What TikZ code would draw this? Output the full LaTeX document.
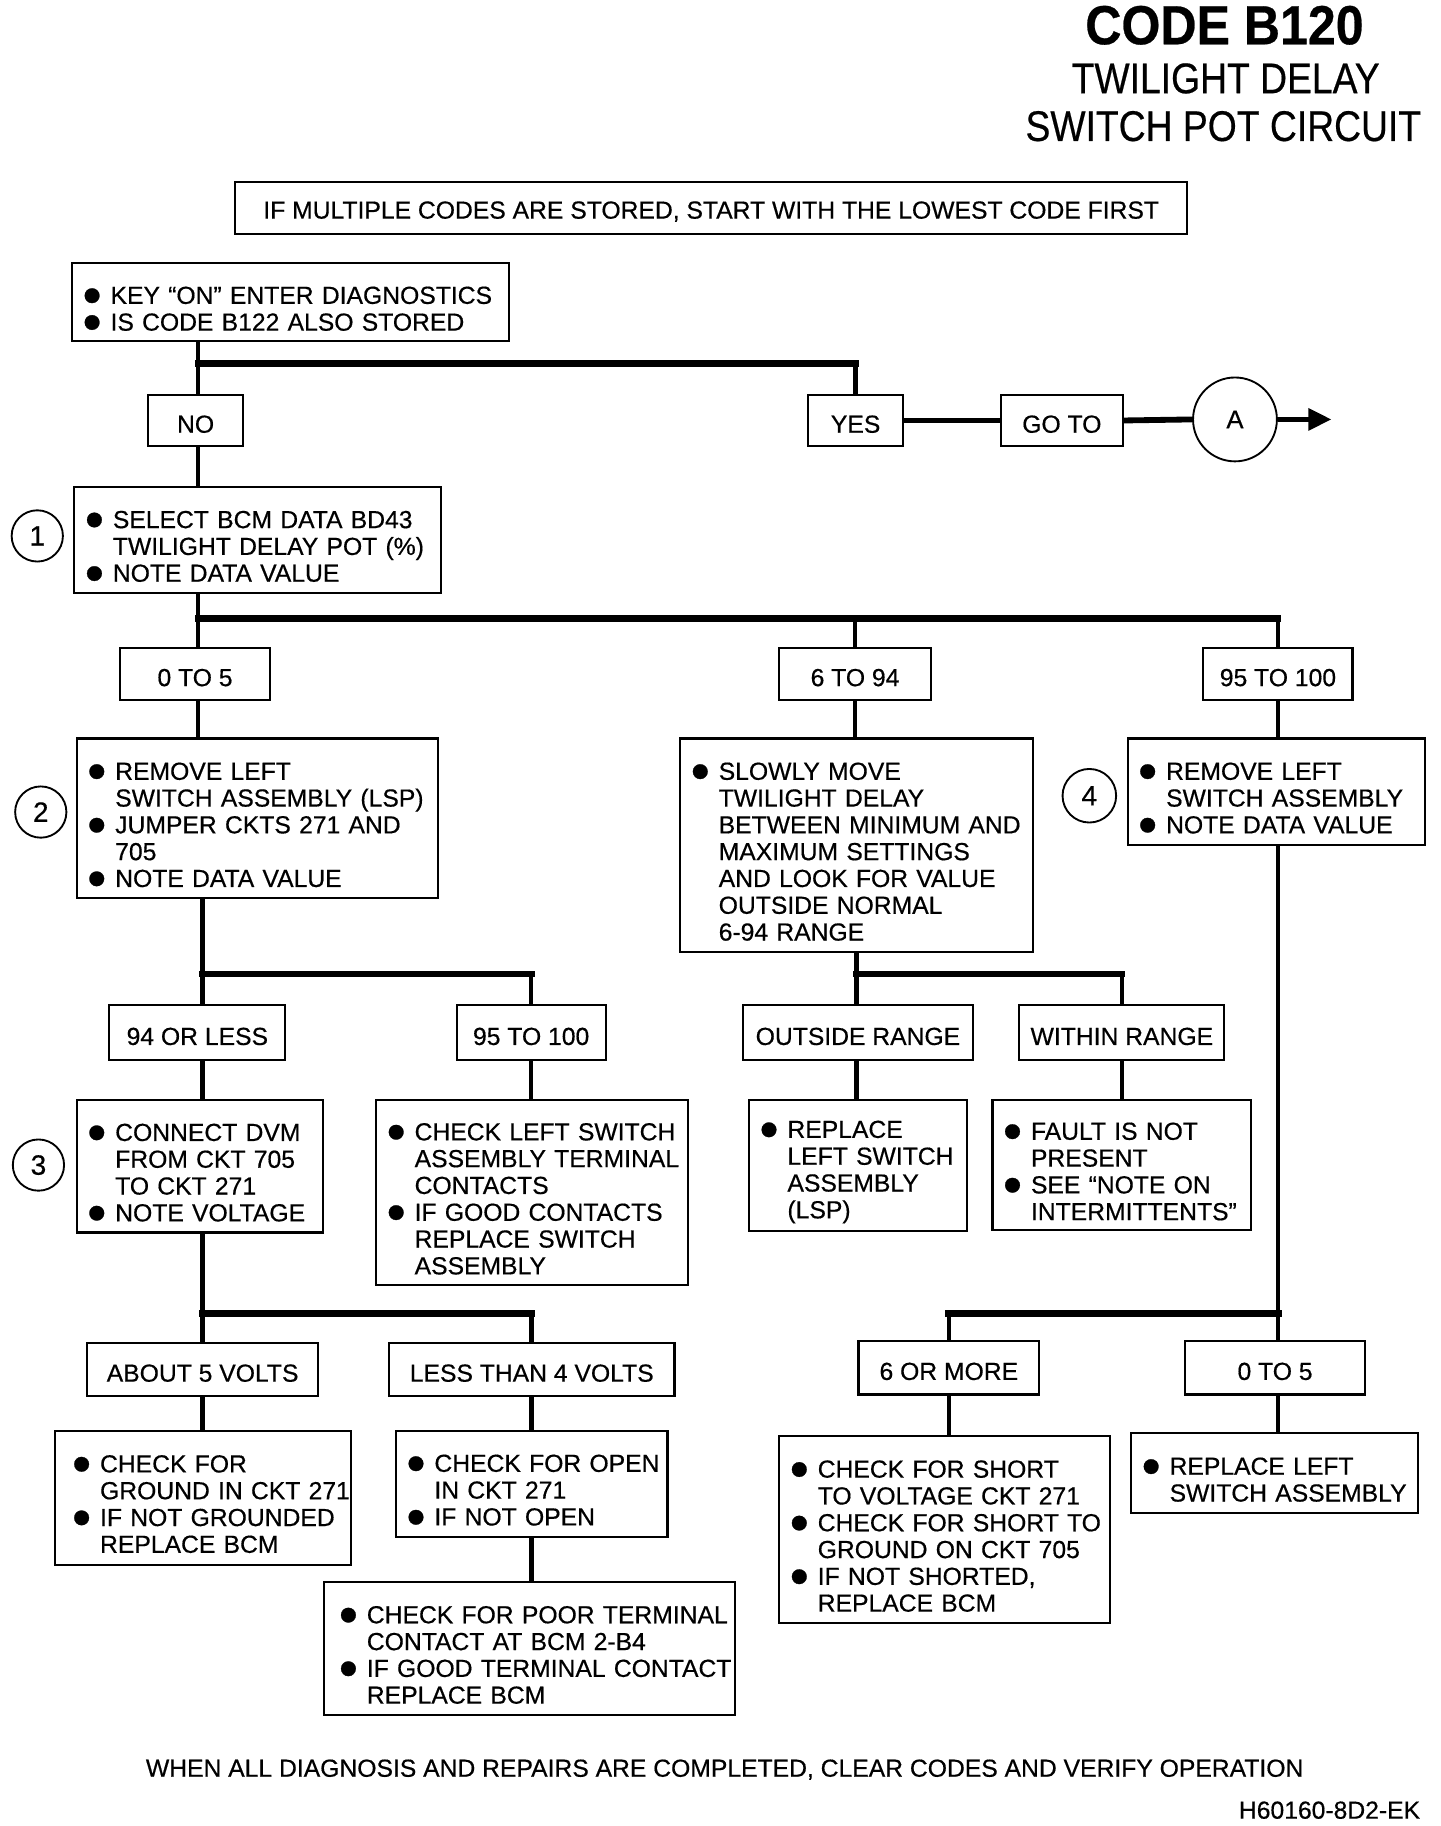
\documentclass[tikz,border=0pt]{standalone}
\usepackage{graphicx}
\usepackage{fontspec}
\setmainfont{Liberation Sans}[FakeBold=0.5]
\usetikzlibrary{arrows.meta}
\newcommand{\drawstep}{\node[stepbox]}
\newcommand{\drawans}{\node[ansbox]}
\newcommand{\drawnum}{\node[numcirc]}
\newcommand{\bul}[1]{\mbox{\makebox[10.5pt][l]{\hspace*{-1.5pt}\raisebox{-0.4em}[0pt][0pt]{\scalebox{2.2}{\textbullet}}}#1}}
\newcommand{\nxt}[1]{\mbox{\hspace*{10.5pt}#1}}
\tikzset{
  stepbox/.style={draw, line width=0.9pt, anchor=north west, inner xsep=6pt, inner ysep=0pt, align=left,
    execute at begin node={\rule{0pt}{13pt}}},
  ansbox/.style={draw, line width=0.9pt, anchor=north west, inner sep=0pt,
    execute at begin node={\rule{0pt}{10.6pt}}},
  numcirc/.style={draw, circle, line width=0.8pt, inner sep=0pt, minimum size=22pt, font=\fontsize{12}{12}\selectfont},
  vline/.style={line width=2pt},
  hbar/.style={line width=3pt, line cap=rect},
}

\begin{document}
\begin{tikzpicture}[x=0.5pt, y=-0.5pt, every node/.style={font=\fontsize{10.6}{11.5}\selectfont}]
\useasboundingbox (0,0) rectangle (1236,1567.3);
%title
\node[anchor=base, font=\bfseries\fontsize{21.5}{22}\selectfont] (code) at (1051,38) {\scalebox{1}[1.1]{CODE B120}};
\node[anchor=base, font=\fontsize{16}{16}\selectfont] (title1) at (1052,80) {\scalebox{1}[1.15]{TWILIGHT DELAY}};
\node[anchor=base, font=\fontsize{16}{16}\selectfont] (title2) at (1050,121) {\scalebox{1}[1.15]{SWITCH POT CIRCUIT}};
\drawans[minimum width=408.5pt, minimum height=22.5pt] (multi) at (201,155) {IF MULTIPLE CODES ARE STORED, START WITH THE LOWEST CODE FIRST};

%first question
\drawstep[text width=175.5pt, minimum height=33.5pt] (key) at (61,225) {\bul{KEY ``ON'' ENTER DIAGNOSTICS}\\\bul{IS CODE B122 ALSO STORED}};
\drawans[minimum width=41pt, minimum height=22pt] (no) at (126,338) {NO};
\drawans[minimum width=40.5pt, minimum height=22pt] (yes) at (693,338) {YES};
\drawans[minimum width=52.5pt, minimum height=22pt] (goto) at (858,338) {GO TO};
\node[numcirc, minimum size=36pt, font=\fontsize{11}{11}\selectfont] (A) at (1060,360) {A};
\coordinate (Aend) at (1143,360);

%step 1
\drawnum (c1) at (32,460) {1};
\drawstep[text width=145.5pt, minimum height=45.5pt] (step1) at (63,417) {\bul{SELECT BCM DATA BD43}\\\nxt{TWILIGHT DELAY POT (\%)}\\\bul{NOTE DATA VALUE}};
\drawans[minimum width=64.5pt, minimum height=22.5pt] (r05) at (102,555) {0 TO 5};
\drawans[minimum width=65pt, minimum height=22.5pt] (r694) at (668,555) {6 TO 94};
\drawans[minimum width=64pt, minimum height=22.5pt] (r95) at (1032,555) {95 TO 100};

%step 2, middle and step 4
\drawnum (c2) at (35,697) {2};
\drawstep[text width=143pt, minimum height=68.5pt] (step2) at (65,633) {\bul{REMOVE LEFT}\\\nxt{SWITCH ASSEMBLY (LSP)}\\\bul{JUMPER CKTS 271 AND}\\\nxt{705}\\\bul{NOTE DATA VALUE}};
\drawstep[text width=139.5pt, minimum height=91.5pt] (slow) at (583,633) {\bul{SLOWLY MOVE}\\\nxt{TWILIGHT DELAY}\\\nxt{BETWEEN MINIMUM AND}\\\nxt{MAXIMUM SETTINGS}\\\nxt{AND LOOK FOR VALUE}\\\nxt{OUTSIDE NORMAL}\\\nxt{6-94 RANGE}};
\drawnum[minimum size=23pt] (c4) at (935,683) {4};
\drawstep[text width=115.5pt, minimum height=45.5pt] (step4) at (967,633) {\bul{REMOVE LEFT}\\\nxt{SWITCH ASSEMBLY}\\\bul{NOTE DATA VALUE}};

\drawans[minimum width=75.5pt, minimum height=23.5pt] (le94) at (93,862) {94 OR LESS};
\drawans[minimum width=64pt, minimum height=23.5pt] (r95b) at (391,862) {95 TO 100};
\drawans[minimum width=98.5pt, minimum height=23.5pt] (outside) at (637,862) {OUTSIDE RANGE};
\drawans[minimum width=88pt, minimum height=23.5pt] (within) at (874,862) {WITHIN RANGE};

%step 3 row
\drawnum (c3) at (33,1000) {3};
\drawstep[text width=93.5pt, minimum height=57pt] (step3) at (65,943) {\bul{CONNECT DVM}\\\nxt{FROM CKT 705}\\\nxt{TO CKT 271}\\\bul{NOTE VOLTAGE}};
\drawstep[text width=122pt, minimum height=79.5pt] (chkleft) at (322,943) {\bul{CHECK LEFT SWITCH}\\\nxt{ASSEMBLY TERMINAL}\\\nxt{CONTACTS}\\\bul{IF GOOD CONTACTS}\\\nxt{REPLACE SWITCH}\\\nxt{ASSEMBLY}};
\drawstep[text width=81.5pt, minimum height=56.5pt] (replace) at (642,943) {\bul{REPLACE}\\\nxt{LEFT SWITCH}\\\nxt{ASSEMBLY}\\\nxt{(LSP)}};
\drawstep[text width=99pt, minimum height=56pt] (fault) at (851,943) {\bul{FAULT IS NOT}\\\nxt{PRESENT}\\\bul{SEE ``NOTE ON}\\\nxt{INTERMITTENTS''}};

\drawans[minimum width=99pt, minimum height=22.5pt] (about5) at (74,1152) {ABOUT 5 VOLTS};
\drawans[minimum width=122.5pt, minimum height=22.5pt] (lt4) at (333,1152) {LESS THAN 4 VOLTS};
\drawans[minimum width=77.5pt, minimum height=23pt] (ge6) at (736,1150) {6 OR MORE};
\drawans[minimum width=77.5pt, minimum height=23pt] (r05b) at (1016,1150) {0 TO 5};

%last actions
\drawstep[inner xsep=9pt, text width=109pt, minimum height=57.5pt] (chkgnd) at (46,1227) {\bul{CHECK FOR}\\\nxt{GROUND IN CKT 271}\\\bul{IF NOT GROUNDED}\\\nxt{REPLACE BCM}};
\drawstep[text width=104.5pt, minimum height=45.5pt] (chkopen) at (339,1227) {\bul{CHECK FOR OPEN}\\\nxt{IN CKT 271}\\\bul{IF NOT OPEN}};
\drawstep[inner xsep=8pt, text width=160.5pt, minimum height=57pt] (poor) at (277,1357) {\bul{CHECK FOR POOR TERMINAL}\\\nxt{CONTACT AT BCM 2-B4}\\\bul{IF GOOD TERMINAL CONTACT}\\\nxt{REPLACE BCM}};
\drawstep[text width=130pt, minimum height=80pt] (short) at (668,1232) {\bul{CHECK FOR SHORT}\\\nxt{TO VOLTAGE CKT 271}\\\bul{CHECK FOR SHORT TO}\\\nxt{GROUND ON CKT 705}\\\bul{IF NOT SHORTED,}\\\nxt{REPLACE BCM}};
\drawstep[text width=111pt, minimum height=34.5pt] (repleft) at (970,1229) {\bul{REPLACE LEFT}\\\nxt{SWITCH ASSEMBLY}};

\node[anchor=base] (done) at (622,1525) {WHEN ALL DIAGNOSIS AND REPAIRS ARE COMPLETED, CLEAR CODES AND VERIFY OPERATION};
\node[anchor=base east] (fig) at (1226,1561) {H60160-8D2-EK};

%connectors
\coordinate (j0) at (170,312);
\draw[vline] (key.south -| j0) -- (j0) -- (no.north -| j0);
\draw[hbar] (j0) -- (j0 -| yes.north);
\draw[vline] (j0 -| yes.north) -- (yes.north);
\draw[line width=2.5pt] (yes.east) -- (goto.west);
\draw[line width=2.5pt] (goto.east) -- (A.west);
\draw[line width=2.5pt, -{Triangle[length=10pt,width=9pt]}] (A.east) -- (Aend);
\draw[vline] (no.south -| j0) -- (step1.north -| j0);

\coordinate (j1) at (170,531);
\draw[vline] (step1.south -| j1) -- (j1) -- (r05.north -| j1);
\draw[hbar] (j1) -- (j1 -| r95.north);
\draw[vline] (j1 -| r694.north) -- (r694.north);
\draw[vline] (j1 -| r95.north) -- (r95.north);
\draw[vline] (r05.south -| j1) -- (step2.north -| j1);
\draw[vline] (r694.south) -- (slow.north -| r694.south);
\draw[vline] (r95.south) -- (step4.north -| r95.south);

\coordinate (j2) at (174,836);
\draw[vline] (step2.south -| j2) -- (j2) -- (le94.north -| j2);
\draw[hbar] (j2) -- (j2 -| r95b.north);
\draw[vline] (j2 -| r95b.north) -- (r95b.north);
\draw[vline] (le94.south -| j2) -- (step3.north -| j2);
\draw[vline] (r95b.south) -- (chkleft.north -| r95b.south);

\coordinate (j3) at (735,836);
\draw[vline] (slow.south -| j3) -- (j3) -- (outside.north -| j3);
\draw[hbar] (j3) -- (j3 -| within.north);
\draw[vline] (j3 -| within.north) -- (within.north);
\draw[vline] (outside.south -| j3) -- (replace.north -| j3);
\draw[vline] (within.south) -- (fault.north -| within.south);

\coordinate (j4) at (1097,1127);
\draw[vline] (step4.south -| j4) -- (j4) -- (r05b.north -| j4);
\draw[hbar] (j4) -- (j4 -| ge6.north);
\draw[vline] (j4 -| ge6.north) -- (ge6.north);
\draw[vline] (ge6.south) -- (short.north -| ge6.south);
\draw[vline] (r05b.south -| j4) -- (repleft.north -| j4);

\coordinate (j5) at (174,1127);
\draw[vline] (step3.south -| j5) -- (j5) -- (about5.north -| j5);
\draw[hbar] (j5) -- (j5 -| lt4.north);
\draw[vline] (j5 -| lt4.north) -- (lt4.north);
\draw[vline] (about5.south -| j5) -- (chkgnd.north -| j5);
\draw[vline] (lt4.south) -- (chkopen.north -| lt4.south);
\draw[vline] (chkopen.south -| lt4.south) -- (poor.north -| lt4.south);
\end{tikzpicture}
\end{document}
